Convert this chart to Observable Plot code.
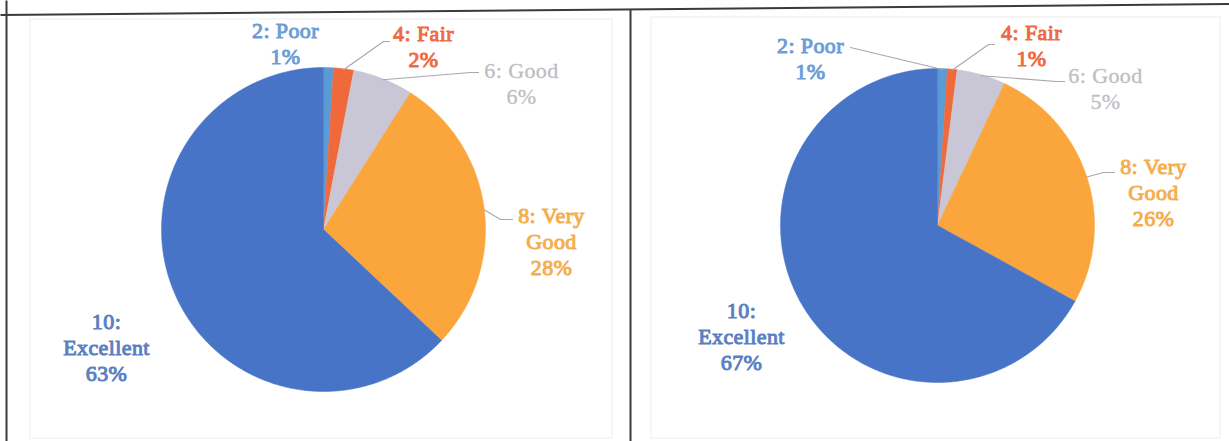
<!DOCTYPE html>
<html><head><meta charset="utf-8">
<script src="https://cdn.jsdelivr.net/npm/d3@7"></script>
<script src="https://cdn.jsdelivr.net/npm/@observablehq/plot@0.6"></script>
<style>
html,body{margin:0;padding:0;background:#fff;overflow:hidden}
#chart svg text{font-family:"Liberation Serif","Times New Roman",serif !important;letter-spacing:0.4px;}
</style>
</head><body><div id="chart"></div>
<script>
// ---- data ----
const categories = ["2: Poor", "4: Fair", "6: Good", "8: Very Good", "10: Excellent"];
const labelLines = [["2: Poor"], ["4: Fair"], ["6: Good"], ["8: Very", "Good"], ["10:", "Excellent"]];
const valuesLeft = [1, 2, 6, 28, 63];
const valuesRight = [1, 1, 5, 26, 67];

// ---- styles ----
const sliceColors = ["#5B9BD5", "#F0693A", "#C9C6D6", "#FBA63D", "#4774C6"];
const textColors = ["#6B9ED8", "#EE6A42", "#BDBDC2", "#F4AE4E", "#5B7FC1"];

// ---- layout ----
const W = 1229, H = 441;
const pies = [
  {values: valuesLeft, cx: 323, cy: 229, r: 162,
   labels: [[285, 42], [423, 45], [521, 82], [551, 240], [106, 346]],
   leaders: [null, [[389, 41], [383, 41]], [[478, 72], [470, 72]], [[512, 219], [500, 219]], null]},
  {values: valuesRight, cx: 937, cy: 225, r: 157,
   labels: [[810, 57], [1031, 44], [1105, 87], [1153, 191], [741, 335]],
   leaders: [[[850, 47]], [[994, 44], [988, 44]], [[1064, 81], [1056, 81]], [[1114, 172], [1103, 172]], null]}
];

const slicePts = [], labelRows = [], leaderPts = [];
pies.forEach((p, pi) => {
  const arcs = d3.pie().sort(null).value(d => d)(p.values);
  arcs.forEach((a, i) => {
    const id = pi + "-" + i;
    slicePts.push({id, x: p.cx, y: p.cy, fill: sliceColors[i]});
    const n = Math.max(2, Math.ceil((a.endAngle - a.startAngle) / 0.01));
    for (let k = 0; k <= n; k++) {
      const t = a.startAngle + (a.endAngle - a.startAngle) * k / n;
      slicePts.push({id, x: p.cx + p.r * Math.sin(t), y: p.cy - p.r * Math.cos(t), fill: sliceColors[i]});
    }
    const [lx, ly] = p.labels[i];
    labelRows.push({x: lx, y: ly, i, text: labelLines[i].concat([p.values[i] + "%"]).join("\n"), fill: textColors[i]});
    if (p.leaders[i]) {
      const mid = (a.startAngle + a.endAngle) / 2;
      const pts = p.leaders[i].concat([[p.cx + (p.r - 1) * Math.sin(mid), p.cy - (p.r - 1) * Math.cos(mid)]]);
      pts.forEach(([x, y]) => leaderPts.push({id, x, y}));
    }
  });
});

const borders = [
  {x1: 0, y1: 14.5, x2: W, y2: 3.5},
  {x1: 6, y1: 0, x2: 6, y2: H},
  {x1: 630, y1: 8.5, x2: 630, y2: H}
];
const frames = [
  {x1: 30, y1: 19, x2: 612, y2: 438},
  {x1: 651, y1: 17, x2: 1220, y2: 438}
];

const fontBase = {fontFamily: "Liberation Serif", fontSize: 22, lineHeight: 1.18, textAnchor: "middle", fontWeight: "normal"};

const plot = Plot.plot({
  width: W, height: H, margin: 0,
  x: {domain: [0, W], range: [0, W], axis: null},
  y: {domain: [0, H], range: [0, H], axis: null},
  color: {type: "identity"},
  style: {background: "#fff"},
  marks: [
    Plot.rect(frames, {x1: "x1", y1: "y1", x2: "x2", y2: "y2", fill: "none", stroke: "#ededed", strokeWidth: 1}),
    Plot.line(slicePts, {x: "x", y: "y", z: "id", fill: "fill", stroke: "fill", strokeWidth: 0.5, curve: "linear-closed"}),
    Plot.line(leaderPts, {x: "x", y: "y", z: "id", stroke: "#A8A8A8", strokeWidth: 1.1}),
    Plot.text(labelRows.filter(d => d.i !== 2), {x: "x", y: "y", text: "text", fill: "fill", stroke: "fill", strokeWidth: 1.0, paintOrder: "stroke", ...fontBase}),
    Plot.text(labelRows.filter(d => d.i === 2), {x: "x", y: "y", text: "text", fill: "fill", stroke: "fill", strokeWidth: 0.3, ...fontBase}),
    Plot.link(borders, {x1: "x1", y1: "y1", x2: "x2", y2: "y2", stroke: "#3a3a3a", strokeWidth: 2})
  ]
});
document.getElementById("chart").appendChild(plot);
</script>
</body></html>
